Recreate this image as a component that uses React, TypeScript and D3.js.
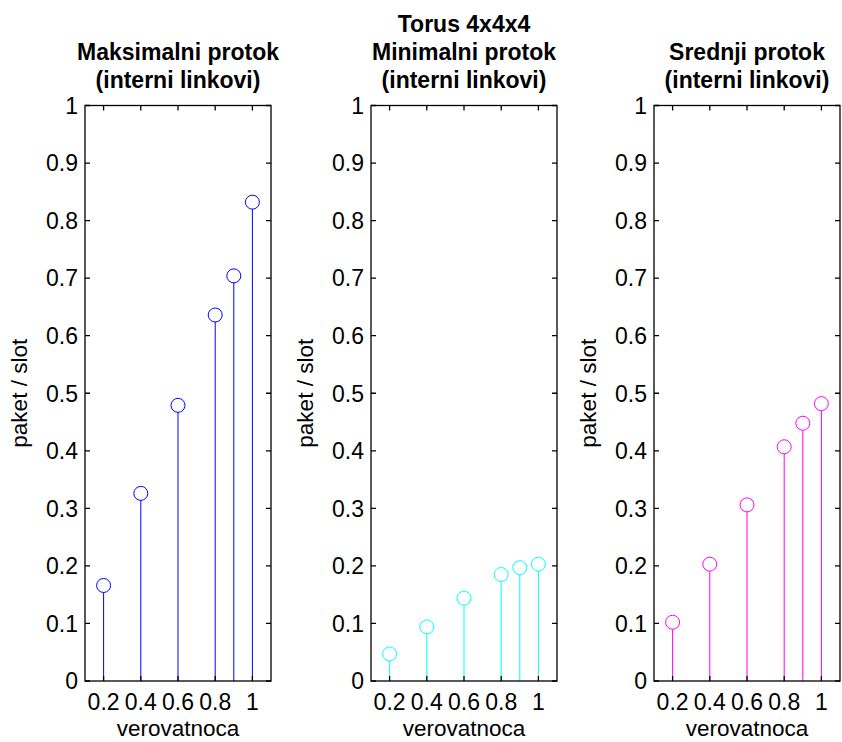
import React, { useEffect, useRef } from "react";
import * as d3 from "d3";

// probability values on the x axis
const probs = [0.2, 0.4, 0.6, 0.8, 0.9, 1.0];

// packets per slot
const maxFlow = [0.166, 0.326, 0.479, 0.636, 0.704, 0.832];
const minFlow = [0.047, 0.094, 0.144, 0.185, 0.197, 0.203];
const avgFlow = [0.102, 0.203, 0.306, 0.407, 0.448, 0.482];

const xTicks = [0.2, 0.4, 0.6, 0.8, 1];
const xTickLabels = ["0.2", "0.4", "0.6", "0.8", "1"];
const yTicks = [0, 0.1, 0.2, 0.3, 0.4, 0.5, 0.6, 0.7, 0.8, 0.9, 1];
const yTickLabels = ["0", "0.1", "0.2", "0.3", "0.4", "0.5", "0.6", "0.7", "0.8", "0.9", "1"];

const titles = [
  ["Maksimalni protok", "(interni linkovi)"],
  ["Torus 4x4x4", "Minimalni protok", "(interni linkovi)"],
  ["Srednji protok", "(interni linkovi)"],
];
const series = [maxFlow, minFlow, avgFlow];
const colors = ["#0000ff", "#00ffff", "#ff00ff"];

const xLabel = "verovatnoca";
const yLabel = "paket / slot";

export default function App() {
  const ref = useRef<SVGSVGElement>(null);

  useEffect(() => {
    const width = 842,
      height = 742;
    const panelLefts = [85, 371, 654];
    const panelWidth = 186;
    const top = 105.5,
      bottom = 681;
    const font = "'Liberation Sans', Arial, sans-serif";
    const tickLen = 5;

    const svg = d3.select(ref.current);
    svg.selectAll("*").remove();
    svg.attr("width", width).attr("height", height);
    svg.append("rect").attr("width", width).attr("height", height).attr("fill", "white");

    const yScale = d3.scaleLinear().domain([0, 1]).range([bottom, top]);

    panelLefts.forEach((left, i) => {
      const xScale = d3.scaleLinear().domain([0.1, 1.1]).range([left, left + panelWidth]);
      const right = left + panelWidth;
      const g = svg.append("g");
      const data = probs.map((p, j) => ({ p, v: series[i][j] }));

      // stems
      g.selectAll(".stem")
        .data(data)
        .join("line")
        .attr("class", "stem")
        .attr("x1", (d) => xScale(d.p))
        .attr("x2", (d) => xScale(d.p))
        .attr("y1", yScale(0))
        .attr("y2", (d) => yScale(d.v) + 7)
        .attr("stroke", colors[i])
        .attr("stroke-width", 1);

      // markers
      g.selectAll(".marker")
        .data(data)
        .join("circle")
        .attr("class", "marker")
        .attr("cx", (d) => xScale(d.p))
        .attr("cy", (d) => yScale(d.v))
        .attr("r", 7)
        .attr("fill", "none")
        .attr("stroke", colors[i])
        .attr("stroke-width", 1);

      // inward ticks on all four sides
      g.selectAll(".ytick")
        .data(yTicks)
        .join("path")
        .attr("class", "ytick")
        .attr(
          "d",
          (d) =>
            `M${left},${yScale(d)}h${tickLen}M${right},${yScale(d)}h${-tickLen}`
        )
        .attr("stroke", "black")
        .attr("stroke-width", 1.3);
      g.selectAll(".xtick")
        .data(xTicks)
        .join("path")
        .attr("class", "xtick")
        .attr(
          "d",
          (d) => `M${xScale(d)},${bottom}v${-tickLen}M${xScale(d)},${top}v${tickLen}`
        )
        .attr("stroke", "black")
        .attr("stroke-width", 1.3);

      // box
      g.append("rect")
        .attr("x", left)
        .attr("y", top)
        .attr("width", panelWidth)
        .attr("height", bottom - top)
        .attr("fill", "none")
        .attr("stroke", "black")
        .attr("stroke-width", 1.3);

      // tick labels
      g.selectAll(".ylab")
        .data(yTicks)
        .join("text")
        .attr("class", "ylab")
        .attr("x", left - 7)
        .attr("y", (d) => yScale(d))
        .attr("dy", "0.36em")
        .attr("text-anchor", "end")
        .attr("font-family", font)
        .attr("font-size", 23)
        .text((d, k) => yTickLabels[k]);
      g.selectAll(".xlab")
        .data(xTicks)
        .join("text")
        .attr("class", "xlab")
        .attr("x", (d) => xScale(d))
        .attr("y", bottom + 29)
        .attr("text-anchor", "middle")
        .attr("font-family", font)
        .attr("font-size", 23)
        .text((d, k) => xTickLabels[k]);

      // axis labels
      g.append("text")
        .attr("x", (left + right) / 2)
        .attr("y", 736)
        .attr("text-anchor", "middle")
        .attr("font-family", font)
        .attr("font-size", 22.5)
        .text(xLabel);
      g.append("text")
        .attr("transform", `translate(${left - 58},${(top + bottom) / 2}) rotate(-90)`)
        .attr("text-anchor", "middle")
        .attr("font-family", font)
        .attr("font-size", 22.5)
        .text(yLabel);

      // title, bottom line sits just above the box
      const lines = titles[i];
      g.selectAll(".title")
        .data(lines)
        .join("text")
        .attr("class", "title")
        .attr("x", (left + right) / 2)
        .attr("y", (d, k) => 88 - (lines.length - 1 - k) * 28)
        .attr("text-anchor", "middle")
        .attr("font-family", font)
        .attr("font-weight", "bold")
        .attr("font-size", 23)
        .text((d) => d);
    });
  }, []);

  return (
    <svg
      ref={ref}
      style={{ position: "absolute", left: 0, top: 0, display: "block" }}
    />
  );
}
